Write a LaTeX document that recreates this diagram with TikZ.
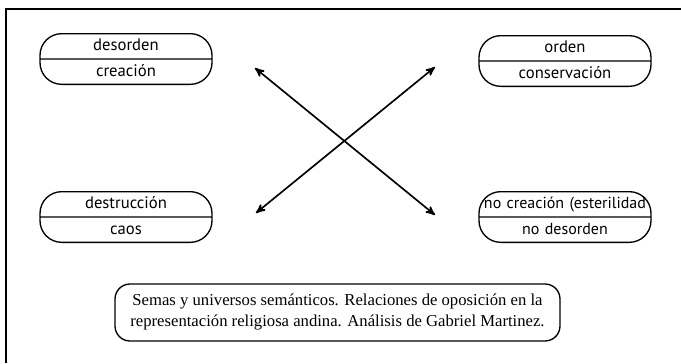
\documentclass[tikz,border=0pt]{standalone}
\usepackage{fontspec}
\setmainfont{Liberation Serif}
\newfontfamily\pillfont{PT Sans}
\usetikzlibrary{arrows}
\usetikzlibrary{shapes.multipart}
\newcommand{\pst}{\rule[-4.6pt]{0pt}{14.4pt}}

\begin{document}
\begin{tikzpicture}[x=0.6pt, y=-0.6pt,
 pill/.style={draw, thick, rectangle split, rectangle split parts=2, rounded corners=13pt,
  text width=103.2pt, align=center, inner xsep=0pt, inner ysep=0pt,
  font=\pillfont\fontsize{10}{12}\selectfont}]
\useasboundingbox (0,0) rectangle (681,363);
\draw[thick] (681,9) -- (6,9) -- (6,363);

\node[pill] (dc) at (126,59) {\pst desorden \nodepart{two}\pst creación};
\node[pill] (oc) at (565,61) {\pst orden \nodepart{two}\pst conservación};
\node[pill] (dca) at (126,217) {\pst destrucción \nodepart{two}\pst caos};
\node[pill, font=\pillfont\fontsize{9.6}{12}\selectfont] (ncd) at (565,217)
 {\pst no creación (esterilidad \nodepart{two}\pst no desorden};

\coordinate (tl) at (255,68);
\coordinate (br) at (435,215);
\coordinate (bl) at (256,213);
\coordinate (tr) at (435,67);
\draw[black, line width=1pt, <->, >=stealth'] (tl) -- (br);
\draw[black, line width=1pt, <->, >=stealth'] (bl) -- (tr);

\node[draw, thick, rounded corners=9pt, minimum width=267pt, minimum height=34.2pt,
 align=center, font=\fontsize{10}{12.6}\selectfont] (cap) at (337.5,312.5)
 {Semas y universos semánticos. Relaciones de oposición en la\\
  representación religiosa andina. Análisis de Gabriel Martinez.};
\end{tikzpicture}
\end{document}
